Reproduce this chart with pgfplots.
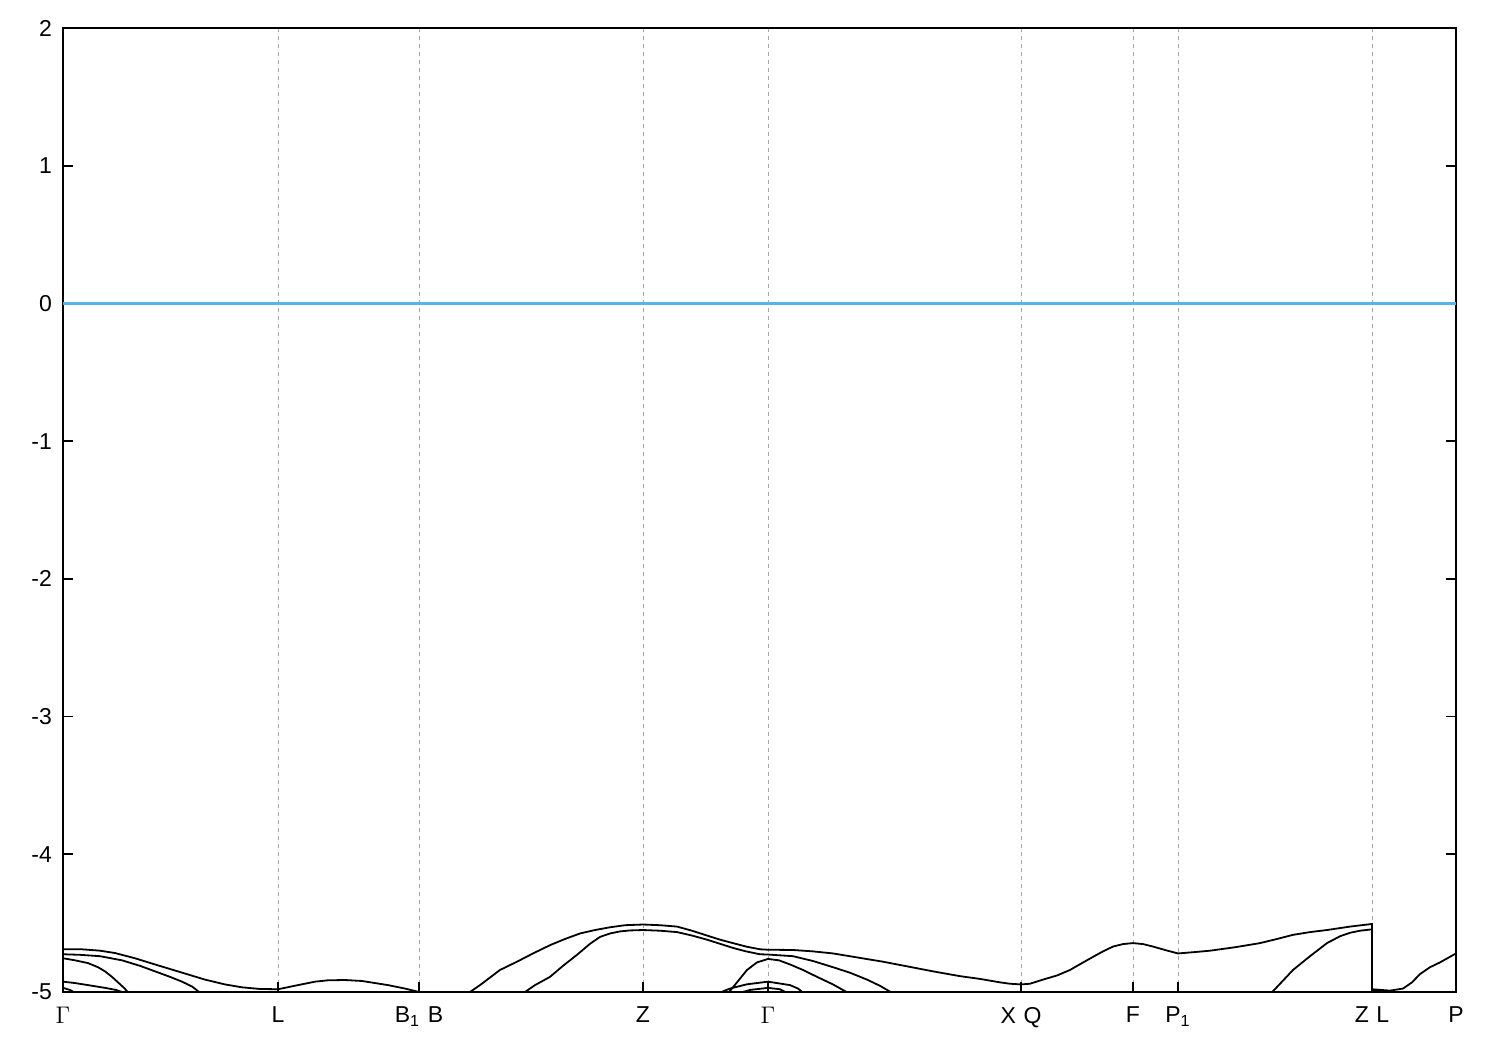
\documentclass[border=0pt]{standalone}
\usepackage{pgfplots}
\pgfplotsset{compat=1.18}
\usepackage{fontspec}
\setmainfont{Liberation Sans}
\definecolor{fermiblue}{RGB}{86,180,233}
\tikzset{band/.style={draw=black, solid, line width=0.9pt, mark=none}}
\begin{document}
\begin{tikzpicture}
\useasboundingbox (-31.5pt,-29pt) rectangle (718.5pt,496pt);
\begin{axis}[
  at={(0pt,0pt)}, anchor=south west,
  scale only axis, width=696.5pt, height=482pt,
  xmin=63, xmax=1456, ymin=-5, ymax=2,
  axis line style={line width=0.9pt},
  tick align=inside, xtick pos=bottom, ytick pos=both,
  major tick length=5pt,
  tick style={line width=0.9pt, black},
  xtick={63,278,419,643,768,1021,1133,1178,1372,1456},
  xticklabels={$\Gamma$,L,B\textsubscript{1}\,\,B,Z,$\Gamma$,X\,\,Q,F,P\textsubscript{1},Z\,\,L,P},
  ytick={-5,-4,-3,-2,-1,0,1,2},
  yticklabels={-5,-4,-3,-2,-1,0,1,2},
  ticklabel style={font=\fontsize{11.5}{13}\selectfont},
  xticklabel style={yshift=-4pt},
  yticklabel style={xshift=-2pt},
  xmajorgrids,
  major grid style={gray!70, dash pattern=on 2pt off 2pt, line width=0.4pt},
]
\addplot[color=fermiblue, line width=1.1pt, mark=none] table {
x y
63 0
760 0
1456 0
};
\addplot[band] coordinates {(63,-4.69)(82,-4.69)(100,-4.70)(115,-4.717)(135,-4.755)(155,-4.80)(180,-4.855)(205,-4.91)(225,-4.945)(242,-4.966)(260,-4.978)(278,-4.98)(298,-4.95)(315,-4.925)(328,-4.915)(345,-4.913)(362,-4.92)(375,-4.935)(388,-4.95)(405,-4.975)(419,-5.0)};
\addplot[band] coordinates {(63,-4.726)(80,-4.73)(100,-4.74)(122,-4.77)(140,-4.81)(155,-4.85)(170,-4.89)(182,-4.925)(192,-4.96)(201,-5.01)};
\addplot[band] coordinates {(63,-4.755)(75,-4.77)(88,-4.79)(98,-4.82)(105,-4.85)(112,-4.89)(118,-4.93)(124,-4.97)(129,-5.01)};
\addplot[band] coordinates {(63,-4.925)(75,-4.935)(88,-4.95)(105,-4.97)(116,-4.985)(126,-5.01)};
\addplot[band] coordinates {(63,-4.97)(70,-4.985)(76,-5.01)};
\addplot[band] coordinates {(468,-5.01)(480,-4.95)(500,-4.84)(517,-4.78)(533,-4.72)(550,-4.66)(565,-4.615)(580,-4.575)(595,-4.55)(610,-4.53)(625,-4.515)(643,-4.51)(660,-4.515)(677,-4.525)(692,-4.555)(707,-4.59)(720,-4.62)(733,-4.645)(746,-4.67)(760,-4.69)(768,-4.693)(793,-4.695)(813,-4.705)(833,-4.72)(858,-4.75)(883,-4.78)(908,-4.815)(933,-4.85)(960,-4.885)(980,-4.905)(1000,-4.93)(1010,-4.94)(1021,-4.945)(1030,-4.94)(1043,-4.91)(1057,-4.88)(1070,-4.84)(1082,-4.79)(1093,-4.745)(1103,-4.705)(1113,-4.67)(1123,-4.652)(1133,-4.645)(1143,-4.652)(1153,-4.67)(1165,-4.695)(1178,-4.72)(1195,-4.71)(1210,-4.70)(1235,-4.675)(1260,-4.645)(1277,-4.615)(1293,-4.585)(1310,-4.565)(1327,-4.55)(1350,-4.525)(1372,-4.506)(1372,-4.98)(1390,-4.99)(1403,-4.975)(1412,-4.93)(1420,-4.87)(1430,-4.82)(1440,-4.785)(1456,-4.72)};
\addplot[band] coordinates {(523,-5.01)(535,-4.95)(550,-4.89)(563,-4.81)(577,-4.73)(590,-4.65)(600,-4.60)(610,-4.575)(620,-4.56)(630,-4.553)(643,-4.55)(660,-4.555)(677,-4.565)(692,-4.59)(707,-4.62)(720,-4.65)(733,-4.68)(746,-4.705)(760,-4.726)(768,-4.728)(793,-4.74)(813,-4.775)(833,-4.82)(850,-4.86)(867,-4.91)(880,-4.955)(893,-5.01)};
\addplot[band] coordinates {(728,-5.01)(737,-4.93)(747,-4.84)(757,-4.785)(768,-4.76)(779,-4.77)(790,-4.80)(803,-4.84)(817,-4.89)(833,-4.945)(849,-5.01)};
\addplot[band] coordinates {(718,-5.01)(730,-4.975)(747,-4.944)(768,-4.925)(790,-4.95)(798,-4.975)(804,-5.01)};
\addplot[band] coordinates {(738,-5.01)(750,-4.985)(768,-4.97)(780,-4.98)(788,-5.01)};
\addplot[band] coordinates {(1271,-5.01)(1282,-4.925)(1293,-4.84)(1310,-4.74)(1327,-4.645)(1340,-4.595)(1350,-4.57)(1360,-4.555)(1372,-4.545)};
\addplot[band] coordinates {(1372,-4.99)(1388,-4.995)(1398,-5.01)};
\end{axis}
\end{tikzpicture}
\end{document}
